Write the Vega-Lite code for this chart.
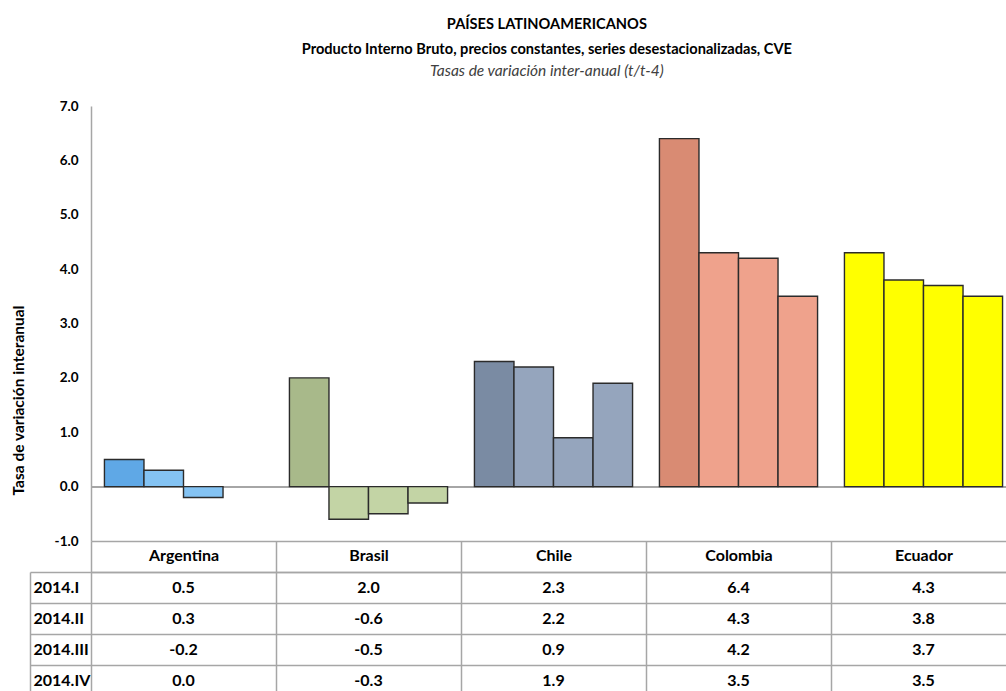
{
  "$schema": "https://vega.github.io/schema/vega-lite/v6.json",
  "background": "white",
  "padding": {"left": 11, "top": 16, "right": 0, "bottom": 0},
  "config": {
    "view": {"stroke": null},
    "font": "Lato",
    "locale": {
      "number": {"decimal": ".", "thousands": ",", "grouping": [3], "currency": ["$", ""], "minus": "-"}
    }
  },
  "title": {
    "text": ["PAÍSES LATINOAMERICANOS", "Producto Interno Bruto, precios constantes, series desestacionalizadas, CVE"],
    "subtitle": "Tasas de variación inter-anual (t/t-4)",
    "anchor": "middle",
    "dx": 33,
    "font": "Lato",
    "fontSize": 14.6,
    "fontWeight": "bold",
    "color": "#000000",
    "lineHeight": 25,
    "subtitleFont": "Lato",
    "subtitleFontSize": 15.5,
    "subtitleFontStyle": "italic",
    "subtitleColor": "#404040",
    "subtitlePadding": 7,
    "offset": 20
  },
  "data": {
    "values": [
      {"pais": "Argentina", "trimestre": "2014.I", "valor": 0.5},
      {"pais": "Argentina", "trimestre": "2014.II", "valor": 0.3},
      {"pais": "Argentina", "trimestre": "2014.III", "valor": -0.2},
      {"pais": "Argentina", "trimestre": "2014.IV", "valor": 0.0},
      {"pais": "Brasil", "trimestre": "2014.I", "valor": 2.0},
      {"pais": "Brasil", "trimestre": "2014.II", "valor": -0.6},
      {"pais": "Brasil", "trimestre": "2014.III", "valor": -0.5},
      {"pais": "Brasil", "trimestre": "2014.IV", "valor": -0.3},
      {"pais": "Chile", "trimestre": "2014.I", "valor": 2.3},
      {"pais": "Chile", "trimestre": "2014.II", "valor": 2.2},
      {"pais": "Chile", "trimestre": "2014.III", "valor": 0.9},
      {"pais": "Chile", "trimestre": "2014.IV", "valor": 1.9},
      {"pais": "Colombia", "trimestre": "2014.I", "valor": 6.4},
      {"pais": "Colombia", "trimestre": "2014.II", "valor": 4.3},
      {"pais": "Colombia", "trimestre": "2014.III", "valor": 4.2},
      {"pais": "Colombia", "trimestre": "2014.IV", "valor": 3.5},
      {"pais": "Ecuador", "trimestre": "2014.I", "valor": 4.3},
      {"pais": "Ecuador", "trimestre": "2014.II", "valor": 3.8},
      {"pais": "Ecuador", "trimestre": "2014.III", "valor": 3.7},
      {"pais": "Ecuador", "trimestre": "2014.IV", "valor": 3.5}
    ]
  },
  "vconcat": [
    {
      "width": 925,
      "height": 435,
      "layer": [
        {
          "mark": {"type": "rule", "color": "#A6A6A6", "strokeWidth": 1.5},
          "encoding": {
            "y": {"datum": 0, "type": "quantitative", "scale": {"domain": [-1, 7], "nice": false, "zero": false}}
          }
        },
        {
          "transform": [
            {"filter": "datum.valor != 0"},
            {"calculate": "datum.pais + (datum.trimestre === '2014.I' ? ' I' : '')", "as": "serie"}
          ],
          "mark": {"type": "bar", "stroke": "#2b2b2b", "strokeWidth": 1.4},
          "encoding": {
            "x": {
              "field": "pais", "type": "nominal",
              "scale": {"domain": ["Argentina", "Brasil", "Chile", "Colombia", "Ecuador"], "paddingInner": 0, "paddingOuter": 0},
              "axis": {"orient": "bottom", "title": null, "labels": false, "ticks": false, "grid": false, "domainColor": "#A6A6A6", "domainWidth": 1.5}
            },
            "xOffset": {
              "field": "trimestre", "type": "nominal",
              "scale": {"domain": ["2014.I", "2014.II", "2014.III", "2014.IV"], "paddingInner": 0, "paddingOuter": 0.34}
            },
            "y": {
              "field": "valor", "type": "quantitative",
              "scale": {"domain": [-1, 7], "nice": false, "zero": false},
              "axis": {
                "title": "Tasa de variación interanual",
                "values": [-1, 0, 1, 2, 3, 4, 5, 6, 7],
                "format": ".1f",
                "grid": false,
                "ticks": false,
                "domainColor": "#A6A6A6",
                "domainWidth": 1.5,
                "labelFont": "Lato",
                "labelFontSize": 13.5,
                "labelFontWeight": "bold",
                "labelColor": "#000000",
                "labelPadding": 13,
                "titleFont": "Lato",
                "titleFontSize": 15.5,
                "titleFontWeight": "bold",
                "titleColor": "#000000",
                "titleAngle": -90,
                "titleAlign": "center",
                "titleBaseline": "middle",
                "titleX": -73,
                "titleY": 294
              }
            },
            "color": {
              "field": "serie", "type": "nominal", "legend": null,
              "scale": {
                "domain": ["Argentina I", "Argentina", "Brasil I", "Brasil", "Chile I", "Chile", "Colombia I", "Colombia", "Ecuador I", "Ecuador"],
                "range": ["#5FA8E6", "#84C3F3", "#A8B98A", "#C3D4A5", "#7A8BA3", "#95A5BD", "#D98B73", "#EFA28C", "#FFFF00", "#FFFF00"]
              }
            }
          }
        }
      ]
    },
    {
      "width": 925,
      "height": 124,
      "mark": {"type": "text", "font": "Lato", "fontWeight": "bold", "fontSize": 16, "color": "#000000"},
      "encoding": {
        "x": {
          "field": "pais", "type": "nominal",
          "scale": {"domain": ["Argentina", "Brasil", "Chile", "Colombia", "Ecuador"], "paddingInner": 0, "paddingOuter": 0},
          "axis": {
            "orient": "top", "title": null, "labelAngle": 0,
            "tickBand": "extent", "tickSize": 31, "tickColor": "#A6A6A6", "tickWidth": 1.5,
            "grid": true, "gridColor": "#A6A6A6", "gridWidth": 1.5,
            "domainColor": "#A6A6A6", "domainWidth": 1.5,
            "labelFont": "Lato", "labelFontSize": 16, "labelFontWeight": "bold", "labelColor": "#000000",
            "labelBaseline": "middle", "labelPadding": -14
          }
        },
        "y": {
          "field": "trimestre", "type": "nominal",
          "scale": {"domain": ["2014.I", "2014.II", "2014.III", "2014.IV"], "paddingInner": 0, "paddingOuter": 0},
          "axis": {
            "title": null, "offset": 61,
            "tickBand": "extent", "tickSize": -61, "tickColor": "#A6A6A6", "tickWidth": 1.5,
            "grid": true, "gridColor": "#A6A6A6", "gridWidth": 1.5,
            "domainColor": "#A6A6A6", "domainWidth": 1.5,
            "labelFont": "Lato", "labelFontSize": 16, "labelFontWeight": "bold", "labelColor": "#000000",
            "labelAlign": "left", "labelBaseline": "middle", "labelPadding": 58
          }
        },
        "text": {"field": "valor", "type": "quantitative", "format": ".1f"}
      }
    }
  ],
  "spacing": 31,
  "bounds": "flush"
}
